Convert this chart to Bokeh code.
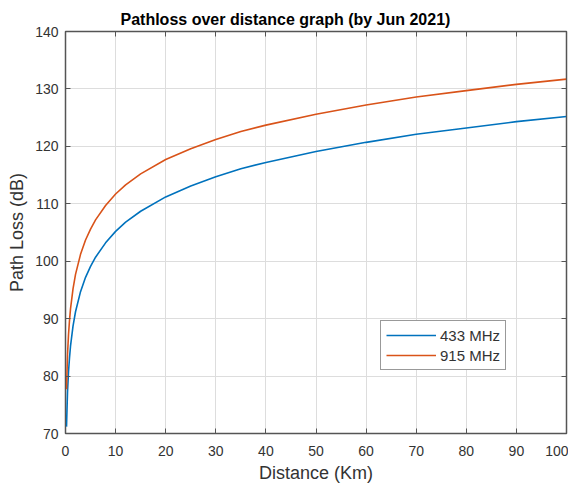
from bokeh.plotting import figure
from bokeh.models import LinearAxis, CustomJSTickFormatter, Legend, LegendItem, FixedTicker, Range1d, ColumnDataSource
from bokeh.embed import file_html
from bokeh.resources import INLINE

# Data
distance_km = [0.2, 0.4, 0.6, 0.8, 1, 1.5, 2, 3, 4, 5, 6, 8, 10, 12, 15, 20, 25, 30, 35, 40, 50, 60, 70, 80, 90, 100]
loss_433 = [71.2, 77.2, 80.7, 83.2, 85.2, 88.7, 91.2, 94.7, 97.2, 99.1, 100.7, 103.2, 105.2, 106.8, 108.7, 111.2,
            113.1, 114.7, 116.1, 117.2, 119.1, 120.7, 122.1, 123.2, 124.3, 125.2]
loss_915 = [77.7, 83.7, 87.2, 89.7, 91.7, 95.2, 97.7, 101.2, 103.7, 105.6, 107.2, 109.7, 111.7, 113.3, 115.2, 117.7,
            119.6, 121.2, 122.6, 123.7, 125.6, 127.2, 128.6, 129.7, 130.8, 131.7]
series_names = ["433 MHz", "915 MHz"]
x_ticks = [0, 10, 20, 30, 40, 50, 60, 70, 80, 90, 100]
y_ticks = [70, 80, 90, 100, 110, 120, 130, 140]

FONT = "Liberation Sans"
AX = "#555555"
TXT = "#333333"

p = figure(width=568, height=485, output_backend="svg", toolbar_location=None,
           x_range=Range1d(0, 100), y_range=Range1d(70, 140),
           min_border_left=65, min_border_right=2, min_border_top=31, min_border_bottom=52)

p.title.text = "Pathloss over distance graph (by Jun 2021)"
p.title.align = "left"
p.title.text_font = FONT
p.title.text_font_size = "16px"
p.title.text_font_style = "bold"
p.title.text_color = "#000000"
p.title.offset = 55
p.title.standoff = 7

p.outline_line_color = AX
p.outline_line_width = 1.5
p.outline_line_alpha = 1.0

for ax, ticks in ((p.xaxis[0], x_ticks), (p.yaxis[0], y_ticks)):
    ax.ticker = FixedTicker(ticks=ticks)
    ax.major_tick_in = 5
    ax.major_tick_out = 0
    ax.minor_tick_in = 0
    ax.minor_tick_out = 0
    ax.axis_line_color = AX
    ax.major_tick_line_color = AX
    ax.major_label_text_font = FONT
    ax.major_label_text_font_size = "14px"
    ax.major_label_text_color = TXT
    ax.axis_label_text_font = FONT
    ax.axis_label_text_font_size = "18px"
    ax.axis_label_text_font_style = "normal"
    ax.axis_label_text_color = TXT

p.xaxis[0].axis_label = "Distance (Km)"
p.yaxis[0].axis_label = "Path Loss (dB)"
p.xaxis[0].major_label_standoff = 12
p.xaxis[0].axis_label_standoff = 4
p.yaxis[0].major_label_standoff = 7
p.yaxis[0].axis_label_standoff = 5

for loc, ticks in (("above", x_ticks), ("right", y_ticks)):
    a = LinearAxis(ticker=FixedTicker(ticks=ticks),
                   formatter=CustomJSTickFormatter(code="return ''"))
    a.major_tick_in = 5
    a.major_tick_out = 0
    a.minor_tick_in = 0
    a.minor_tick_out = 0
    a.axis_line_color = AX
    a.major_tick_line_color = AX
    a.major_label_standoff = 0
    a.major_label_text_font_size = "1px"
    p.add_layout(a, loc)

p.xgrid.ticker = FixedTicker(ticks=x_ticks)
p.ygrid.ticker = FixedTicker(ticks=y_ticks)
p.grid.grid_line_color = "#dddddd"
p.grid.grid_line_alpha = 1.0

src = ColumnDataSource(dict(d=distance_km, a=loss_433, b=loss_915))
r1 = p.line("d", "a", source=src, line_color="#0072BD", line_width=1.6)
r2 = p.line("d", "b", source=src, line_color="#D95319", line_width=1.6)

legend = Legend(items=[LegendItem(label=series_names[0], renderers=[r1]),
                       LegendItem(label=series_names[1], renderers=[r2])],
                location=(315, 63))
legend.label_text_font = FONT
legend.label_text_font_size = "15px"
legend.label_text_color = TXT
legend.glyph_width = 50
legend.glyph_height = 18
legend.label_height = 18
legend.label_standoff = 4
legend.spacing = 2
legend.padding = 5
legend.margin = 0
legend.border_line_color = "#333333"
legend.border_line_width = 1
legend.background_fill_color = "white"
legend.background_fill_alpha = 1.0
p.add_layout(legend, "center")

open("out.html", "w").write(file_html(p, INLINE))
